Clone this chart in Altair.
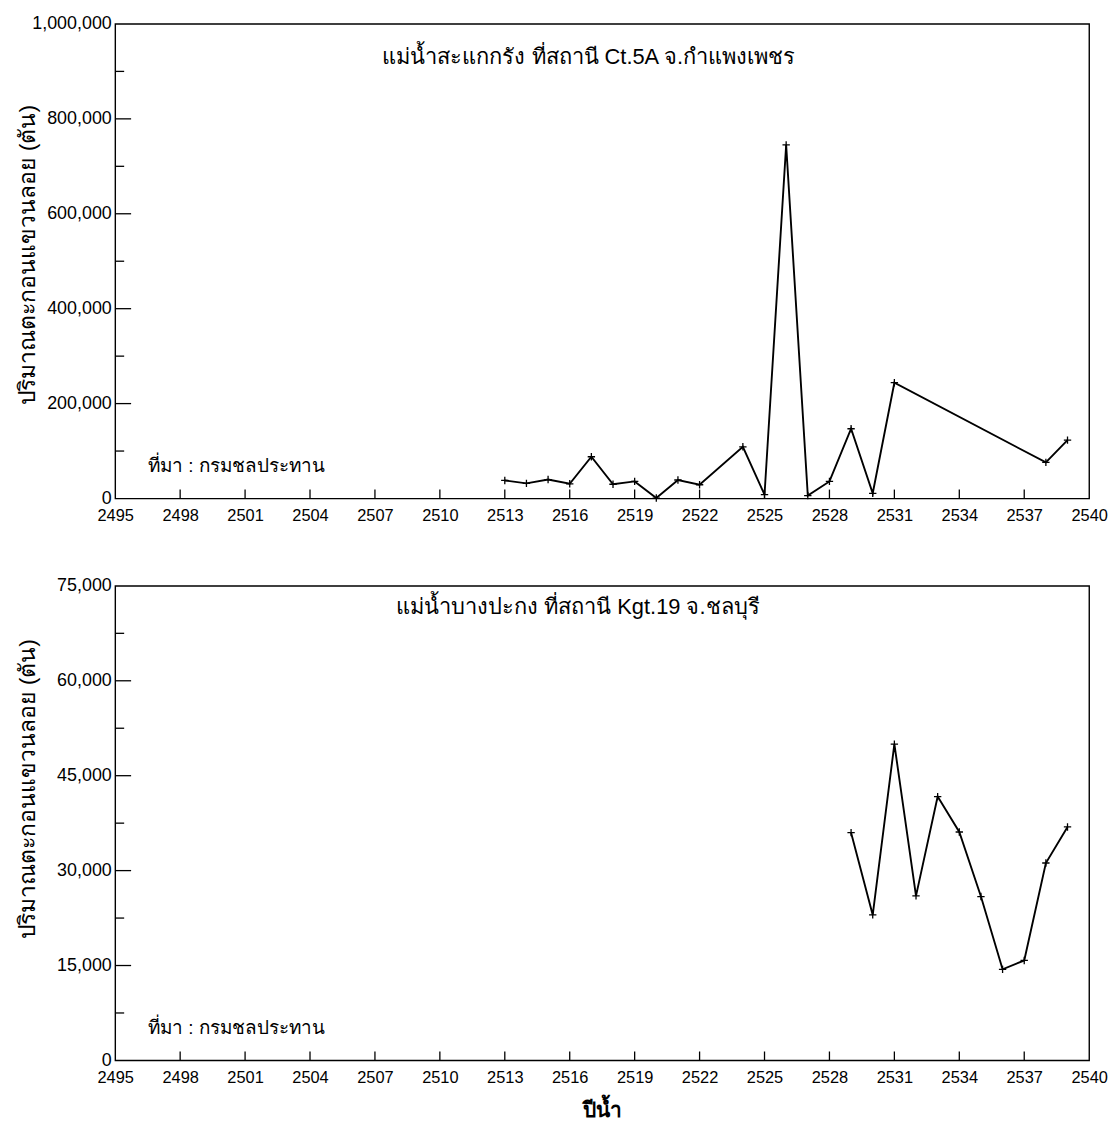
import altair as alt
import pandas as pd

# ---------------- data ----------------
years_top = [2513, 2514, 2515, 2516, 2517, 2518, 2519, 2520, 2521, 2522,
             2524, 2525, 2526, 2527, 2528, 2529, 2530, 2531, 2538, 2539]
values_top = [38000, 32000, 40000, 31000, 88000, 30000, 36000, 1000, 39000, 29000,
              109000, 8000, 745000, 6000, 36000, 147000, 11000, 244000, 76000, 123000]

years_bot = [2529, 2530, 2531, 2532, 2533, 2534, 2535, 2536, 2537, 2538, 2539]
values_bot = [36000, 23000, 50000, 26000, 41700, 36100, 25900, 14400, 15800, 31200, 36900]

x_ticks = [2495, 2498, 2501, 2504, 2507, 2510, 2513, 2516, 2519, 2522, 2525,
           2528, 2531, 2534, 2537, 2540]
y_ticks_top = [0, 200000, 400000, 600000, 800000, 1000000]
y_minor_top = [100000, 300000, 500000, 700000, 900000]
y_ticks_bot = [0, 15000, 30000, 45000, 60000, 75000]
y_minor_bot = [7500, 22500, 37500, 52500, 67500]

title_top = "แม่น้ำสะแกกรัง ที่สถานี Ct.5A  จ.กำแพงเพชร"
title_bot = "แม่น้ำบางปะกง ที่สถานี Kgt.19  จ.ชลบุรี"
source_text = "ที่มา : กรมชลประทาน"
y_title = "ปริมาณตะกอนแขวนลอย  (ตัน)"
x_title = "ปีน้ำ"

W = 981
H = 478
FONT = "Liberation Sans"


def panel(years, values, yticks, yminor, title, title_x, title_y, y_title_y, show_xtitle):
    df = pd.DataFrame({"year": years, "value": values})
    ymax = yticks[-1]
    xs = alt.Scale(domain=[x_ticks[0], x_ticks[-1]], nice=False, zero=False)
    ys = alt.Scale(domain=[0, ymax], nice=False)

    xaxis = alt.Axis(values=x_ticks, format="d", ticks=False, domain=False, grid=False,
                     labelPadding=9, labelFontSize=16.5, labelFont=FONT, labelColor="black",
                     title=x_title if show_xtitle else "",
                     titleFont=FONT, titleFontSize=21, titleFontWeight="bold",
                     titlePadding=14, titleColor="black", labelFlush=False)
    yaxis = alt.Axis(values=yticks, format=",d", ticks=False, domain=False, grid=False,
                     labelPadding=4, labelFontSize=18, labelFont=FONT, labelColor="black",
                     title=y_title, titleFont=FONT, titleFontSize=23, titleFontWeight="normal",
                     titleColor="black", titleX=-88, titleY=y_title_y, titleAlign="center",
                     titleBaseline="middle", labelFlush=False)

    X = alt.X("year:Q", scale=xs, axis=xaxis)
    Y = alt.Y("value:Q", scale=ys, axis=yaxis)

    line = alt.Chart(df).mark_line(color="black", strokeWidth=1.9).encode(x=X, y=Y)
    pts = alt.Chart(df).mark_point(
        shape="M-1,0L1,0M0,-1L0,1", size=55, filled=False, color="black",
        strokeWidth=1.3, opacity=1
    ).encode(x=X, y=Y)

    xt = alt.Chart(pd.DataFrame({"year": x_ticks[1:-1]})).mark_rule(
        color="black", strokeWidth=1.3).encode(
        x=X, y=alt.value(H), y2=alt.value(H - 9),
    )
    yt = alt.Chart(pd.DataFrame({"value": yticks[1:-1]})).mark_rule(
        color="black", strokeWidth=1.3).encode(
        y=Y, x=alt.value(0), x2=alt.value(16),
    )
    ym = alt.Chart(pd.DataFrame({"value": yminor})).mark_rule(
        color="black", strokeWidth=1.3).encode(
        y=Y, x=alt.value(0), x2=alt.value(9),
    )

    ttl = alt.Chart(pd.DataFrame({"label": [title]})).mark_text(
        font=FONT, fontSize=22, color="black", align="center", baseline="middle"
    ).encode(text="label:N", x=alt.value(title_x), y=alt.value(title_y))

    src = alt.Chart(pd.DataFrame({"label": [source_text]})).mark_text(
        font=FONT, fontSize=19, color="black", align="left", baseline="middle"
    ).encode(text="label:N", x=alt.value(33), y=alt.value(H - 33))

    return alt.layer(line, pts, xt, yt, ym, ttl, src).properties(width=W, height=H)


top = panel(years_top, values_top, y_ticks_top, y_minor_top, title_top, 477, 33, 232, False)
bot = panel(years_bot, values_bot, y_ticks_bot, y_minor_bot, title_bot, 466, 21, 204, True)

chart = alt.vconcat(top, bot, spacing=51).properties(
    padding={"left": 8, "top": 2, "right": 2, "bottom": 2}
).configure(background="white").configure_view(
    stroke="black", strokeWidth=1.4
)

chart.save("out.html", embed_options={"renderer": "svg", "actions": False})
